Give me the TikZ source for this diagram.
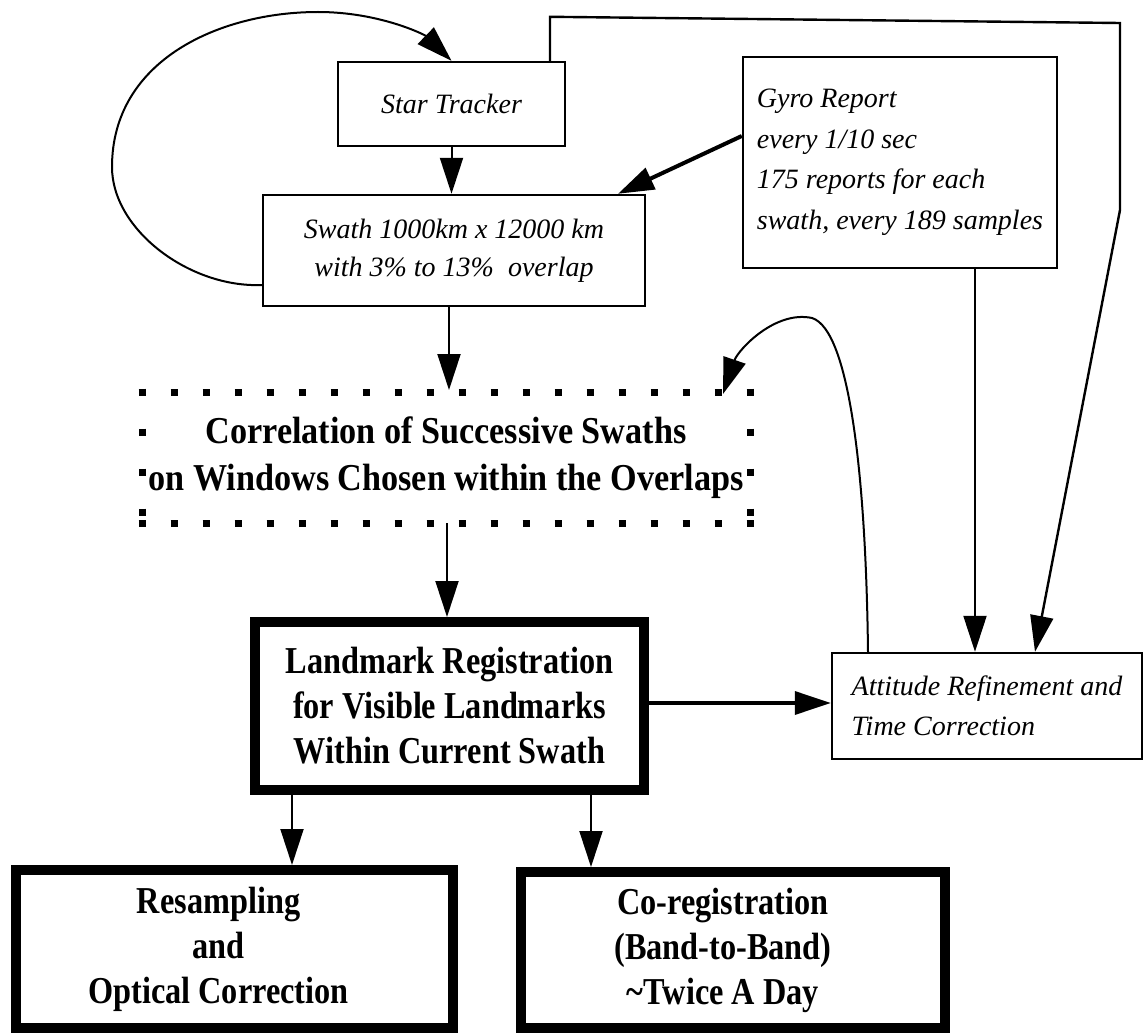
\documentclass[tikz,border=0pt]{standalone}
\usepackage{fontspec}
\setmainfont{Liberation Serif}
\newfontfamily\corrfont{Liberation Serif}[FakeStretch=0.9]
\newfontfamily\boxfont{Liberation Serif}[FakeStretch=0.85]
\usetikzlibrary{arrows.meta}
% invisible padding that moves centred lines a little to the left
\newcommand{\padright}[1]{\rule{#1}{0pt}}
\begin{document}
\begin{tikzpicture}[x=1pt,y=-1pt,
  plain/.style={draw, line width=2.4pt, font=\fontsize{28}{40.5}\selectfont\itshape, inner sep=0pt},
  heavy/.style={draw, line width=10pt, align=center, inner sep=0pt,
                font=\boxfont\bfseries\fontsize{38}{45}\selectfont},
  link/.style={line width=2pt, -{Triangle[length=36pt,width=23pt]}},
  dots/.style={line width=7pt, dash pattern=on 7pt off 25pt, shorten <=-3.5pt, shorten >=-3.5pt},
  vdots/.style={line width=7pt, dash pattern=on 7pt off 33pt, shorten <=-3.5pt, shorten >=-3.5pt},
]
\useasboundingbox (0,0) rectangle (1144,1035);

% boxes
\node[plain, minimum width=227pt, minimum height=84pt] (st) at (451.5,104) {Star Tracker};
\node[plain, align=center, minimum width=382pt, minimum height=111pt, font=\fontsize{28}{38}\selectfont\itshape] (sw) at (454,250.5)
  {Swath 1000km x 12000 km\\with 3\% to 13\%\ \ overlap};
\node[plain, align=left, minimum width=314pt, minimum height=211pt] (gy) at (900,162.5)
  {Gyro Report\\every 1/10 sec\\175 reports for each\\swath, every 189 samples};
\node[align=center, minimum width=608pt, minimum height=131pt, inner sep=0pt, outer sep=0pt,
      font=\corrfont\bfseries\fontsize{38}{47}\selectfont] (cor) at (446,457.5)
  {Correlation of Successive Swaths\\on Windows Chosen within the Overlaps};
\node[heavy, minimum width=389pt, minimum height=168pt] (lm) at (449.5,706)
  {Landmark Registration\\for Visible Landmarks\\Within Current Swath};
\node[plain, align=left, minimum width=310pt, minimum height=106pt] (att) at (987,706)
  {Attitude Refinement and\\Time Correction};
\node[heavy, minimum width=437pt, minimum height=158pt] (rs) at (234.5,949)
  {Resampling\padright{32pt}\\and\padright{32pt}\\Optical Correction\padright{32pt}};
\node[heavy, minimum width=424pt, minimum height=156pt] (cr) at (733,950)
  {Co-registration\padright{20pt}\\(Band-to-Band)\padright{20pt}\\\textasciitilde Twice A Day\padright{20pt}};

% dotted frame of the correlation step
\draw[dots] (cor.north west) -- (cor.north east);
\draw[dots] (cor.south west) -- (cor.south east);
\draw[vdots] (cor.north west) -- (cor.south west);
\draw[vdots] (cor.north east) -- (cor.south east);

% main flow
\draw[link] (st.south) -- (st.south |- sw.north);
\draw[link, line width=4pt] ([yshift=26.5pt]gy.west) -- ([xshift=164pt]sw.north);
\draw[link] ([xshift=-5pt]sw.south) -- ([xshift=3pt,yshift=2pt]cor.north);
\draw[link] ([xshift=1pt]cor.south) -- ([xshift=-2.5pt]lm.north);
\draw[link] ([xshift=-157.5pt]lm.south) coordinate (a1) -- (a1 |- rs.north);
\draw[link] ([xshift=141.5pt]lm.south) coordinate (a2) -- (a2 |- cr.north);
\draw[link, line width=3.5pt] ([yshift=3pt]lm.east) -- ([yshift=3pt]att.west);
\draw[link] ([xshift=75pt]gy.south) -- ([xshift=-12pt]att.north);

% star tracker feed to attitude refinement
\coordinate (c1) at (1120,23);
\coordinate (c2) at (1120,210);
\draw[link, line width=2.4pt] ([xshift=98.5pt]st.north) -- ++(0,-44) -- (c1) -- (c2) -- ([xshift=48pt]att.north);

% feedback from attitude refinement to correlation
\draw[link] ([xshift=-119pt]att.north) .. controls (866,480) and (850,330) .. (812,318)
  .. controls (775,310) and (738,350) .. ([xshift=-27pt,yshift=-2pt]cor.north east);

% loop from swath back to star tracker
\draw[link] ([yshift=-34.5pt]sw.west) .. controls (190,288) and (112,230) .. (112,167)
  .. controls (112,60) and (220,12) .. (318,12)
  .. controls (380,12) and (425,35) .. (st.north);
\end{tikzpicture}
\end{document}
